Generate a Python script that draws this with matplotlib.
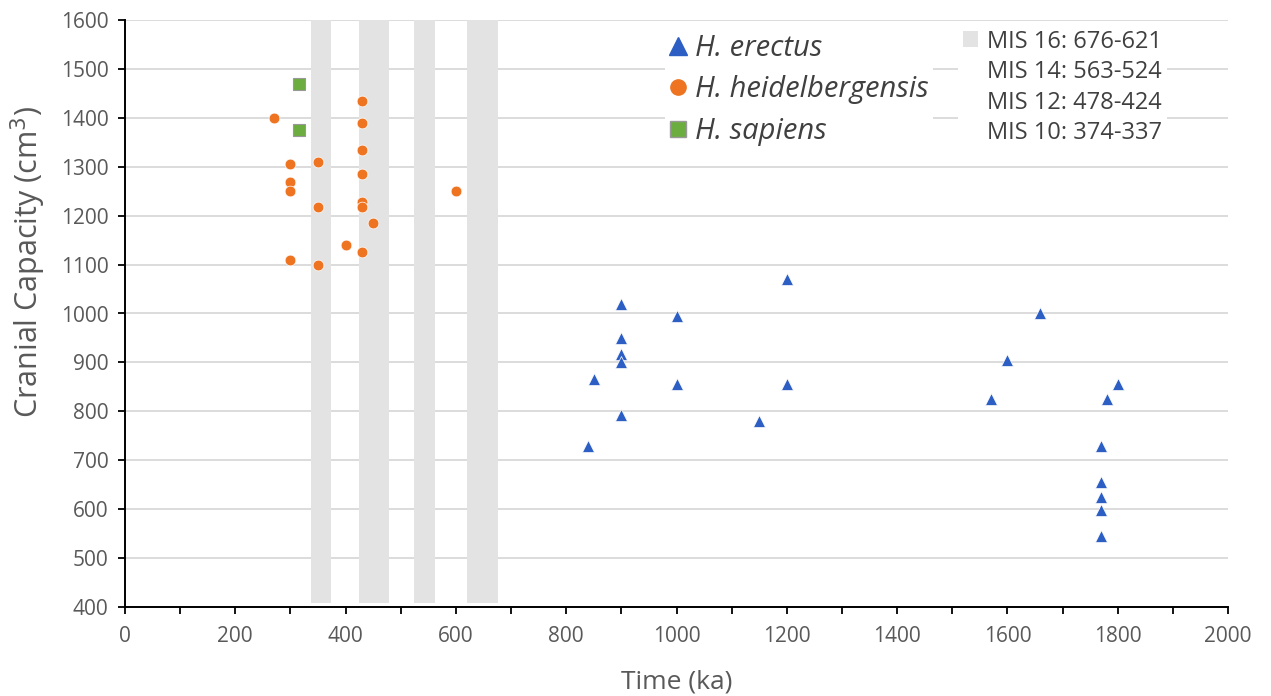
import matplotlib
matplotlib.use("Agg")
import matplotlib.pyplot as plt
import matplotlib.patches as patches
from matplotlib.lines import Line2D
from matplotlib.ticker import MultipleLocator

# H. erectus
erectus_ka = [840, 850, 900, 900, 900, 900, 900, 1000, 1000, 1150, 1200, 1200,
              1570, 1600, 1660, 1770, 1770, 1770, 1770, 1770, 1780, 1800]
erectus_cc = [730, 867, 1020, 950, 918, 900, 792, 995, 855, 780, 1070, 855,
              825, 905, 1000, 730, 655, 625, 598, 545, 825, 855]

# H. heidelbergensis
heidel_ka = [270, 300, 300, 300, 300, 350, 350, 350, 400,
             430, 430, 430, 430, 430, 430, 430, 450, 600]
heidel_cc = [1400, 1305, 1268, 1250, 1110, 1310, 1217, 1100, 1140,
             1435, 1390, 1335, 1285, 1228, 1218, 1125, 1185, 1250]

# H. sapiens
sapiens_ka = [315, 315]
sapiens_cc = [1470, 1375]

# marine isotope stages (ka)
mis_names = ["MIS 10", "MIS 12", "MIS 14", "MIS 16"]
mis_start = [374, 478, 563, 676]
mis_end = [337, 424, 524, 621]

BLUE = "#2C5EC4"
ORANGE = "#EE7422"
GREEN = "#6CAD3F"
BAND = "#E3E3E3"
TXT = "#595959"

plt.rcParams["font.family"] = ["Open Sans", "DejaVu Sans"]

fig = plt.figure(figsize=(12.71, 6.96), dpi=100)
ax = fig.add_axes([125 / 1271, 1 - 607 / 696, (1228 - 125) / 1271, (607 - 20) / 696])

ax.set_xlim(0, 2000)
ax.set_ylim(400, 1600)

# MIS bands
for s, e in zip(mis_start, mis_end):
    ax.axvspan(e, s, ymin=0.006, ymax=1, color=BAND, lw=0, zorder=1)

ax.yaxis.set_major_locator(MultipleLocator(100))
ax.xaxis.set_major_locator(MultipleLocator(200))
ax.xaxis.set_minor_locator(MultipleLocator(100))
ax.grid(axis="y", color="#D9D9D9", lw=1.3, zorder=0)
ax.set_axisbelow(True)

for sp in ["top", "right"]:
    ax.spines[sp].set_visible(False)
for sp in ["left", "bottom"]:
    ax.spines[sp].set_color("black")
    ax.spines[sp].set_linewidth(1.4)
    ax.spines[sp].set_zorder(3)

ax.tick_params(axis="both", which="both", direction="out", color="black",
               width=1.3, labelcolor=TXT, labelsize=15)
ax.tick_params(axis="y", length=5, pad=7)
ax.tick_params(axis="x", which="both", length=5, pad=9)

ax.scatter(erectus_ka, erectus_cc, marker="^", s=75, color=BLUE,
           edgecolors="white", linewidths=0.5, zorder=4)
ax.scatter(heidel_ka, heidel_cc, marker="o", s=60, color=ORANGE,
           edgecolors="white", linewidths=0.5, zorder=4)
ax.scatter(sapiens_ka, sapiens_cc, marker="s", s=65, color=GREEN,
           edgecolors="#999999", linewidths=0.8, zorder=4)

ax.set_xlabel("Time (ka)", fontsize=19, color=TXT, labelpad=16)
ax.set_ylabel("Cranial Capacity (cm$^3$)", fontsize=22, color=TXT)
ax.yaxis.set_label_coords((48 - 125) / 1103, (607 - 262) / 587)

# species legend
sp_handles = [
    Line2D([], [], ls="", marker="^", ms=13, color=BLUE),
    Line2D([], [], ls="", marker="o", ms=11, color=ORANGE),
    Line2D([], [], ls="", marker="s", ms=12, color=GREEN, mec="#999999"),
]
sp_labels = ["H. erectus", "H. heidelbergensis", "H. sapiens"]
leg1 = ax.legend(sp_handles, sp_labels, loc="upper left",
                 bbox_to_anchor=(650 / 1271, 1 - 15 / 696),
                 bbox_transform=fig.transFigure,
                 prop={"style": "italic", "size": 21}, frameon=True,
                 facecolor="white", edgecolor="none", framealpha=1,
                 handlelength=0.6, handletextpad=0.3, labelspacing=0.43,
                 borderpad=0.15, labelcolor="#404040")
ax.add_artist(leg1)

# MIS legend
mis_handles = []
mis_labels = []
for i in reversed(range(len(mis_names))):
    mis_handles.append(patches.Patch(facecolor=BAND if i == len(mis_names) - 1 else "none",
                                     edgecolor="none"))
    mis_labels.append(f"{mis_names[i]}: {mis_start[i]}-{mis_end[i]}")
leg2 = ax.legend(mis_handles, mis_labels, loc="upper left",
                 bbox_to_anchor=(946 / 1271, 1 - 13 / 696),
                 bbox_transform=fig.transFigure,
                 prop={"size": 17}, frameon=True, facecolor="white",
                 edgecolor="none", framealpha=1,
                 handlelength=0.65, handleheight=0.65, handletextpad=0.4,
                 labelspacing=0.28, borderpad=0.2, labelcolor="#404040")

fig.savefig("out.png", dpi=100)
